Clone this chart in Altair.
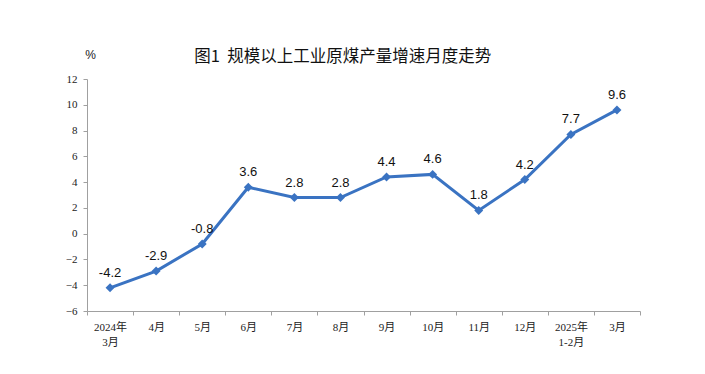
import altair as alt
import pandas as pd

months = ["2024年|3月", "4月", "5月", "6月", "7月", "8月", "9月", "10月", "11月", "12月", "2025年|1-2月", "3月"]
values = [-4.2, -2.9, -0.8, 3.6, 2.8, 2.8, 4.4, 4.6, 1.8, 4.2, 7.7, 9.6]
y_ticks = [-6, -4, -2, 0, 2, 4, 6, 8, 10, 12]

df = pd.DataFrame({"month": months, "value": values})
df["label"] = df["value"].map(lambda v: f"{v:.1f}")

blue = "#3A73C2"
lab_font = "Liberation Serif, Noto Sans CJK SC"

x = alt.X("month:O", sort=months, bandPosition=0.5,
          scale=alt.Scale(type="band", paddingInner=0, paddingOuter=0),
          axis=alt.Axis(title=None, labelAngle=0, tickBand="extent",
                        labelExpr="isValid(datum.value) ? split(datum.value, '|') : ''",
                        labelFont=lab_font, labelFontSize=11, labelColor="#222",
                        labelPadding=6, labelLineHeight=15,
                        domainColor="#A0A0A0", tickColor="#A0A0A0", tickSize=4))
y = alt.Y("value:Q", scale=alt.Scale(domain=[-6, 12], nice=False),
          axis=alt.Axis(values=y_ticks, title="%", titleAngle=0, titleX=3, titleY=-18,
                        titleFont="Liberation Sans", titleFontSize=12, titleFontWeight="normal",
                        titleColor="#222", titleAlign="center",
                        labelFont=lab_font, labelFontSize=11, labelColor="#222",
                        labelPadding=6, grid=False,
                        domainColor="#A0A0A0", tickColor="#A0A0A0", tickSize=4))

base = alt.Chart(df)
line = base.mark_line(color=blue, strokeWidth=3).encode(x=x, y=y)
pts = base.mark_point(shape="diamond", filled=True, color=blue, size=80, opacity=1).encode(x=x, y=y)
txt = base.mark_text(dy=-15, fontSize=13, font="Liberation Sans", color="#111").encode(
    x=x, y=y, text="label:N")

chart = alt.layer(line, pts, txt).properties(
    width=553, height=232,
    title=alt.TitleParams("图1\u00a0\u00a0规模以上工业原煤产量增速月度走势", anchor="start", dx=129, offset=-17,
                          font="Noto Sans CJK SC", fontSize=16.5, fontWeight="normal", color="#111"),
    autosize=alt.AutoSizeParams(type="none"),
    padding={"left": 79, "top": 71, "right": 50, "bottom": 50},
).configure_view(stroke=None)

chart.save("out.html", embed_options={"renderer": "svg", "actions": False})
